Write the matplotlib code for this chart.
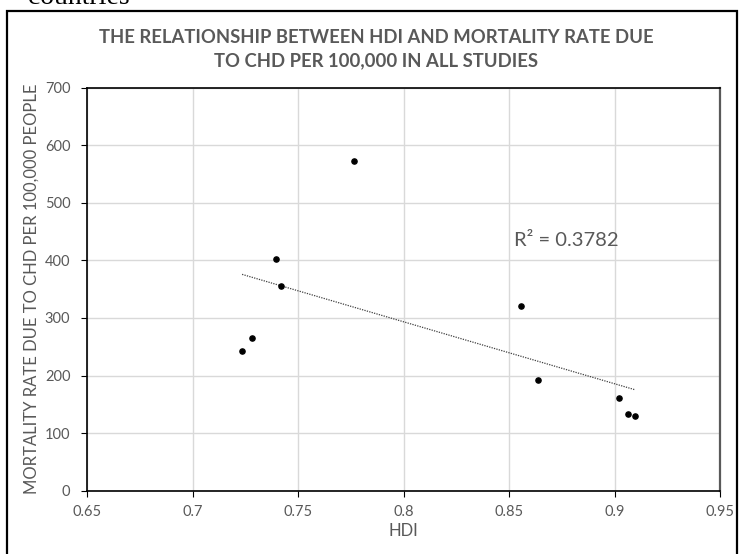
import numpy as np
import matplotlib.pyplot as plt
from matplotlib.patches import Rectangle

# data
hdi = [0.7235, 0.7283, 0.7396, 0.7419, 0.7764, 0.8555, 0.8636, 0.9023, 0.9065, 0.9096]
mortality = [242, 265, 402, 355, 573, 321, 193, 161, 134, 130]
xticks = [0.65, 0.7, 0.75, 0.8, 0.85, 0.9, 0.95]
xticklabels = ['0.65', '0.7', '0.75', '0.8', '0.85', '0.9', '0.95']
yticks = [0, 100, 200, 300, 400, 500, 600, 700]
r2_text = 'R² = 0.3782'

plt.rcParams['font.family'] = ['Lato', 'DejaVu Sans']
grey = '#595959'

fig = plt.figure(figsize=(7.4, 5.54), dpi=100)

# outer chart frame (the picture is cropped from a document)
fig.patches.append(Rectangle((7 / 740, -0.01), 730 / 740, (554 - 11) / 554 + 0.01,
                             transform=fig.transFigure, fill=False,
                             edgecolor='black', linewidth=1.6))
fig.text(28 / 740, 1 - 4 / 554, 'countries', family='Liberation Serif',
         fontsize=20, va='baseline', ha='left', color='black')

ax = fig.add_axes([87 / 740, 1 - 490.7 / 554, 633 / 740, 403 / 554])
ax.scatter(hdi, mortality, s=14, color='black', zorder=3)

# linear trendline
x = np.array(hdi)
k, b = np.polyfit(x, mortality, 1)
xs = np.array([x.min(), x.max()])
ax.plot(xs, k * xs + b, color='#404040', linestyle=(0, (1, 1)), linewidth=0.9, zorder=2)

ax.text(0.8525, 434, r2_text, fontsize=14.5, color=grey, ha='left', va='center')

ax.set_xlim(0.65, 0.95)
ax.set_ylim(0, 700)
ax.set_xticks(xticks)
ax.set_xticklabels(xticklabels)
ax.set_yticks(yticks)
ax.grid(True, color='#d9d9d9', linewidth=1)
ax.set_axisbelow(True)
for side in ['left', 'bottom', 'top']:
    ax.spines[side].set_color('black')
    ax.spines[side].set_linewidth(1.2)
ax.spines['right'].set_color(grey)
ax.spines['right'].set_linewidth(1.6)
ax.tick_params(axis='both', colors='black', labelcolor=grey, labelsize=10.5, length=4)
ax.tick_params(axis='y', pad=8)
ax.tick_params(axis='x', pad=6)

ax.set_xlabel('HDI', fontsize=12, color=grey, labelpad=3)
ax.set_ylabel('MORTALITY RATE DUE TO CHD PER 100,000 PEOPLE', fontsize=12, color=grey, labelpad=4)

fig.text(376 / 740, 1 - 49 / 554,
         'THE RELATIONSHIP BETWEEN HDI AND MORTALITY RATE DUE\nTO CHD PER 100,000 IN ALL STUDIES',
         ha='center', va='center', fontsize=13.3, fontweight='bold', color=grey, linespacing=1.45)

plt.savefig('out.png', dpi=100)
